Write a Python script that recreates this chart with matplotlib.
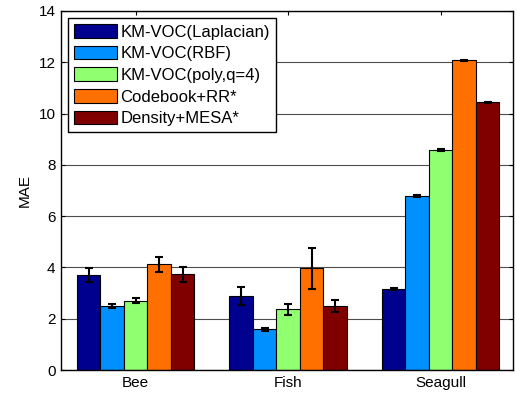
import matplotlib.pyplot as plt
import numpy as np

plt.rcParams["font.family"] = ["Liberation Sans", "DejaVu Sans"]

groups = ["Bee", "Fish", "Seagull"]
methods = [
    "KM-VOC(Laplacian)",
    "KM-VOC(RBF)",
    "KM-VOC(poly,q=4)",
    "Codebook+RR*",
    "Density+MESA*",
]
colors = ["#00008F", "#0090FF", "#90FF70", "#FF7000", "#800000"]

# MAE per method, one value per group (Bee, Fish, Seagull)
laplacian = [3.69, 2.90, 3.15]
rbf = [2.49, 1.58, 6.78]
poly = [2.70, 2.37, 8.58]
codebook = [4.12, 3.97, 12.07]
density = [3.73, 2.50, 10.44]

laplacian_err = [0.27, 0.35, 0.03]
rbf_err = [0.07, 0.05, 0.03]
poly_err = [0.10, 0.22, 0.03]
codebook_err = [0.30, 0.80, 0.03]
density_err = [0.30, 0.24, 0.03]

values = [laplacian, rbf, poly, codebook, density]
errors = [laplacian_err, rbf_err, poly_err, codebook_err, density_err]

fig = plt.figure(figsize=(5.16, 3.93), dpi=100)
ax = fig.add_axes([61 / 516, 23 / 393, 452 / 516, 359 / 393])

x = np.arange(1, len(groups) + 1)
width = 0.154
for i, (vals, errs) in enumerate(zip(values, errors)):
    pos = x + (i - 2) * width
    ax.bar(pos, vals, width, color=colors[i], edgecolor="black", linewidth=0.8,
           label=methods[i], zorder=2)
    ax.errorbar(pos, vals, yerr=errs, fmt="none", ecolor="black", elinewidth=1.5,
                capsize=3, capthick=1.5, zorder=3)

ax.set_xlim(0.51, 3.475)
ax.set_ylim(0, 14)
ax.set_yticks(range(0, 15, 2))
ax.set_xticks(x)
ax.set_xticklabels(groups, fontsize=11)
ax.set_ylabel("MAE", fontsize=11, labelpad=5)
ax.yaxis.grid(True, color="0.3", linewidth=0.8, zorder=0)
ax.set_axisbelow(True)
ax.tick_params(direction="in", top=True, right=True, labelsize=11, length=3, pad=4)
for s in ax.spines.values():
    s.set_linewidth(1.0)

leg = ax.legend(loc="upper left", bbox_to_anchor=(7 / 452, 352 / 359), fontsize=12,
                frameon=True, fancybox=False, edgecolor="black", framealpha=1,
                handlelength=2.6, handleheight=0.9, handletextpad=0.2,
                labelspacing=0.36, borderpad=0.35, borderaxespad=0)
leg.get_frame().set_linewidth(1.0)

fig.savefig("out.png", dpi=100)
